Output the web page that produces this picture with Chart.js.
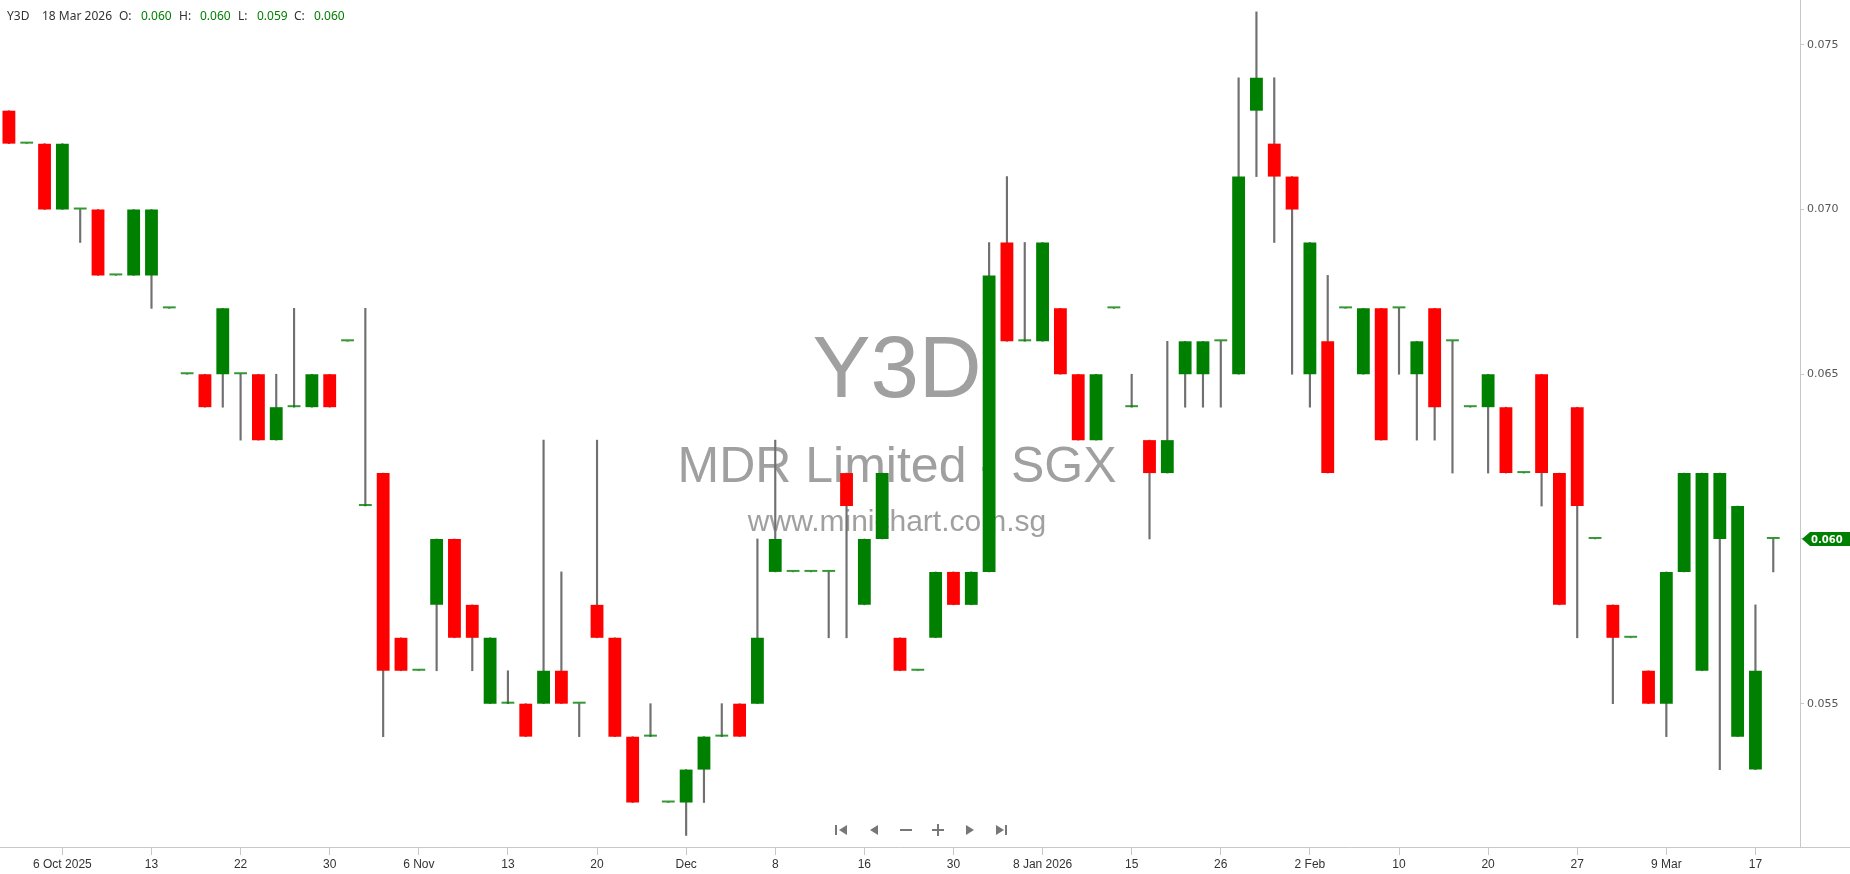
<!DOCTYPE html>
<html>
<head>
<meta charset="utf-8">
<title>Y3D - MDR Limited</title>
<script src="https://cdn.jsdelivr.net/npm/chart.js@4.4.1/dist/chart.umd.min.js"></script>
<style>
  html, body { margin: 0; padding: 0; background: #fff; }
  #wrap { position: relative; width: 1850px; height: 874px; }
</style>
</head>
<body>
<div id="wrap"><canvas id="priceChart"></canvas></div>
<script>
const symbol = 'Y3D';
const companyName = 'MDR Limited - SGX';
const siteUrl = 'www.minichart.com.sg';
const lastDate = '18 Mar 2026';

// daily candles, oldest first
const opens = [
  0.073, 0.072, 0.072, 0.070, 0.070, 0.070, 0.068, 0.068, 0.068, 0.067,
  0.065, 0.065, 0.065, 0.065, 0.065, 0.063, 0.064, 0.064, 0.065, 0.066,
  0.061, 0.062, 0.057, 0.056, 0.058, 0.060, 0.058, 0.055, 0.055, 0.055,
  0.055, 0.056, 0.055, 0.058, 0.057, 0.054, 0.054, 0.052, 0.052, 0.053,
  0.054, 0.055, 0.055, 0.059, 0.059, 0.059, 0.059, 0.062, 0.058, 0.060,
  0.057, 0.056, 0.057, 0.059, 0.058, 0.059, 0.069, 0.066, 0.066, 0.067,
  0.065, 0.063, 0.067, 0.064, 0.063, 0.062, 0.065, 0.065, 0.066, 0.065,
  0.073, 0.072, 0.071, 0.065, 0.066, 0.067, 0.065, 0.067, 0.067, 0.065,
  0.067, 0.066, 0.064, 0.064, 0.064, 0.062, 0.065, 0.062, 0.064, 0.060,
  0.058, 0.057, 0.056, 0.055, 0.059, 0.056, 0.060, 0.054, 0.053, 0.060
];
const highs = [
  0.073, 0.072, 0.072, 0.072, 0.070, 0.070, 0.068, 0.070, 0.070, 0.067,
  0.065, 0.065, 0.067, 0.065, 0.065, 0.065, 0.067, 0.065, 0.065, 0.066,
  0.067, 0.062, 0.057, 0.056, 0.060, 0.060, 0.058, 0.057, 0.056, 0.055,
  0.063, 0.059, 0.055, 0.063, 0.057, 0.054, 0.055, 0.052, 0.053, 0.054,
  0.055, 0.055, 0.060, 0.063, 0.059, 0.059, 0.059, 0.062, 0.060, 0.062,
  0.057, 0.056, 0.059, 0.059, 0.059, 0.069, 0.071, 0.069, 0.069, 0.067,
  0.065, 0.065, 0.067, 0.065, 0.063, 0.066, 0.066, 0.066, 0.066, 0.074,
  0.076, 0.074, 0.071, 0.069, 0.068, 0.067, 0.067, 0.067, 0.067, 0.066,
  0.067, 0.066, 0.064, 0.065, 0.064, 0.062, 0.065, 0.062, 0.064, 0.060,
  0.058, 0.057, 0.056, 0.059, 0.062, 0.062, 0.062, 0.061, 0.058, 0.060
];
const lows = [
  0.072, 0.072, 0.070, 0.070, 0.069, 0.068, 0.068, 0.068, 0.067, 0.067,
  0.065, 0.064, 0.064, 0.063, 0.063, 0.063, 0.064, 0.064, 0.064, 0.066,
  0.061, 0.054, 0.056, 0.056, 0.056, 0.057, 0.056, 0.055, 0.055, 0.054,
  0.055, 0.055, 0.054, 0.057, 0.054, 0.052, 0.054, 0.052, 0.051, 0.052,
  0.054, 0.054, 0.055, 0.059, 0.059, 0.059, 0.057, 0.057, 0.058, 0.060,
  0.056, 0.056, 0.057, 0.058, 0.058, 0.059, 0.066, 0.066, 0.066, 0.065,
  0.063, 0.063, 0.067, 0.064, 0.060, 0.062, 0.064, 0.064, 0.064, 0.065,
  0.071, 0.069, 0.065, 0.064, 0.062, 0.067, 0.065, 0.063, 0.065, 0.063,
  0.063, 0.062, 0.064, 0.062, 0.062, 0.062, 0.061, 0.058, 0.057, 0.060,
  0.055, 0.057, 0.055, 0.054, 0.059, 0.056, 0.053, 0.054, 0.053, 0.059
];
const closes = [
  0.072, 0.072, 0.070, 0.072, 0.070, 0.068, 0.068, 0.070, 0.070, 0.067,
  0.065, 0.064, 0.067, 0.065, 0.063, 0.064, 0.064, 0.065, 0.064, 0.066,
  0.061, 0.056, 0.056, 0.056, 0.060, 0.057, 0.057, 0.057, 0.055, 0.054,
  0.056, 0.055, 0.055, 0.057, 0.054, 0.052, 0.054, 0.052, 0.053, 0.054,
  0.054, 0.054, 0.057, 0.060, 0.059, 0.059, 0.059, 0.061, 0.060, 0.062,
  0.056, 0.056, 0.059, 0.058, 0.059, 0.068, 0.066, 0.066, 0.069, 0.065,
  0.063, 0.065, 0.067, 0.064, 0.062, 0.063, 0.066, 0.066, 0.066, 0.071,
  0.074, 0.071, 0.070, 0.069, 0.062, 0.067, 0.067, 0.063, 0.067, 0.066,
  0.064, 0.066, 0.064, 0.065, 0.062, 0.062, 0.062, 0.058, 0.061, 0.060,
  0.057, 0.057, 0.055, 0.059, 0.062, 0.062, 0.062, 0.061, 0.056, 0.060
];

// date ticks, one every 5 candles starting at candle 3
const xTickLabels = ['6 Oct 2025', '13', '22', '30', '6 Nov', '13', '20', 'Dec', '8', '16',
                     '30', '8 Jan 2026', '15', '26', '2 Feb', '10', '20', '27', '9 Mar', '17'];
const xTickFirst = 3;
const xTickEvery = 5;
const yTicks = [0.055, 0.060, 0.065, 0.070, 0.075];
const yMin = 0.05065;
const yMax = 0.07636;

const UP = '#008000';
const DOWN = '#ff0000';
const AXIS = '#c8c8c8';

// one spare slot on the right, like the original
const labels = opens.map((_, i) => i).concat([opens.length]);
const bodyColors = closes.map((c, i) => {
    if (c < opens[i]) return DOWN;
    if (c === opens[i]) return 'rgba(0,128,0,0.8)';
    return UP;
});

const lastClose = closes[closes.length - 1];

const watermark = {
    id: 'watermark',
    beforeDatasetsDraw(chart) {
        const ctx = chart.ctx;
        const a = chart.chartArea;
        const cx = (a.left + a.right) / 2 - 3;
        ctx.save();
        ctx.fillStyle = '#a0a0a0';
        ctx.textAlign = 'center';
        ctx.textBaseline = 'alphabetic';
        ctx.font = '87px "Liberation Sans", Arial, sans-serif';
        ctx.fillText(symbol, cx, 397);
        ctx.font = '50px "Liberation Sans", Arial, sans-serif';
        ctx.fillText(companyName, cx, 482);
        ctx.font = '30px "Liberation Sans", Arial, sans-serif';
        ctx.fillText(siteUrl, cx, 531);
        ctx.restore();
    }
};

const overlay = {
    id: 'overlay',
    afterDraw(chart) {
        const ctx = chart.ctx;
        const a = chart.chartArea;
        ctx.save();

        // x axis line runs under the price axis too
        ctx.strokeStyle = AXIS;
        ctx.lineWidth = 1;
        ctx.beginPath();
        ctx.moveTo(a.right, a.bottom + 0.5);
        ctx.lineTo(chart.width, a.bottom + 0.5);
        ctx.stroke();

        // last price tag
        const y = Math.round(chart.scales.y.getPixelForValue(lastClose));
        const x0 = a.right + 2;
        ctx.fillStyle = UP;
        ctx.beginPath();
        ctx.moveTo(x0, y);
        ctx.lineTo(x0 + 8, y - 7);
        ctx.lineTo(chart.width, y - 7);
        ctx.lineTo(chart.width, y + 7);
        ctx.lineTo(x0 + 8, y + 7);
        ctx.closePath();
        ctx.fill();
        ctx.fillStyle = '#fff';
        ctx.font = 'bold 10px "DejaVu Sans", Verdana, sans-serif';
        ctx.textAlign = 'left';
        ctx.textBaseline = 'middle';
        ctx.fillText(lastClose.toFixed(3), x0 + 9, y + 1);

        // header line
        const n = closes.length - 1;
        ctx.font = '12px "Noto Sans", sans-serif';
        ctx.textBaseline = 'middle';
        const parts = [
            [7, symbol, '#333'], [42, lastDate, '#333'],
            [119, 'O:', '#333'], [141, opens[n].toFixed(3), UP],
            [179, 'H:', '#333'], [200, highs[n].toFixed(3), UP],
            [238, 'L:', '#333'], [257, lows[n].toFixed(3), UP],
            [294, 'C:', '#333'], [314, closes[n].toFixed(3), UP]
        ];
        parts.forEach(p => {
            ctx.fillStyle = p[2];
            ctx.fillText(p[1], p[0], 17);
        });

        // navigation buttons
        const ny = 830;
        ctx.fillStyle = '#777';
        const triL = (x) => { ctx.beginPath(); ctx.moveTo(x - 4, ny); ctx.lineTo(x + 4, ny - 5); ctx.lineTo(x + 4, ny + 5); ctx.closePath(); ctx.fill(); };
        const triR = (x) => { ctx.beginPath(); ctx.moveTo(x + 4, ny); ctx.lineTo(x - 4, ny - 5); ctx.lineTo(x - 4, ny + 5); ctx.closePath(); ctx.fill(); };
        ctx.fillRect(835, ny - 5, 2, 10);
        triL(843);
        triL(874);
        ctx.fillRect(900, ny - 1, 12, 2);
        ctx.fillRect(932, ny - 1, 12, 2);
        ctx.fillRect(937, ny - 6, 2, 12);
        triR(970);
        triR(1000);
        ctx.fillRect(1005, ny - 5, 2, 10);

        ctx.restore();
    }
};

new Chart(document.getElementById('priceChart'), {
    type: 'bar',
    data: {
        labels: labels,
        datasets: [
            {
                label: 'wick',
                data: lows.map((l, i) => [l, highs[i]]),
                backgroundColor: '#707070',
                barThickness: 1.5,
                grouped: false,
                order: 2
            },
            {
                label: 'body',
                data: opens.map((o, i) => [o, closes[i]]),
                backgroundColor: bodyColors,
                categoryPercentage: 1,
                barPercentage: 0.72,
                minBarLength: 2,
                grouped: false,
                order: 1
            }
        ]
    },
    options: {
        responsive: true,
        maintainAspectRatio: false,
        animation: false,
        layout: { padding: 0 },
        plugins: {
            legend: { display: false },
            tooltip: { enabled: false }
        },
        scales: {
            x: {
                offset: true,
                grid: { drawOnChartArea: false, offset: false, tickLength: 8, color: AXIS },
                border: { color: AXIS },
                ticks: {
                    autoSkip: false,
                    maxRotation: 0,
                    padding: 2,
                    color: '#333',
                    font: { family: '"Liberation Sans", Arial, sans-serif', size: 12 },
                    callback: (v) => xTickLabels[(v - xTickFirst) / xTickEvery]
                },
                afterBuildTicks: (s) => {
                    s.ticks = xTickLabels.map((_, k) => ({ value: xTickFirst + k * xTickEvery }));
                },
                afterFit: (s) => {
                    s.height = 27;
                    s.paddingLeft = 0;
                    s.paddingRight = 0;
                }
            },
            y: {
                position: 'right',
                min: yMin,
                max: yMax,
                grid: { drawOnChartArea: false, tickLength: 4, color: AXIS },
                border: { color: AXIS },
                ticks: {
                    padding: 3,
                    color: '#555',
                    font: { family: '"DejaVu Sans", Verdana, sans-serif', size: 11 },
                    callback: (v) => v.toFixed(3)
                },
                afterBuildTicks: (s) => { s.ticks = yTicks.map(v => ({ value: v })); },
                afterFit: (s) => {
                    s.width = 50;
                    s.paddingTop = 0;
                    s.paddingBottom = 0;
                }
            }
        }
    },
    plugins: [watermark, overlay]
});
</script>
</body>
</html>
